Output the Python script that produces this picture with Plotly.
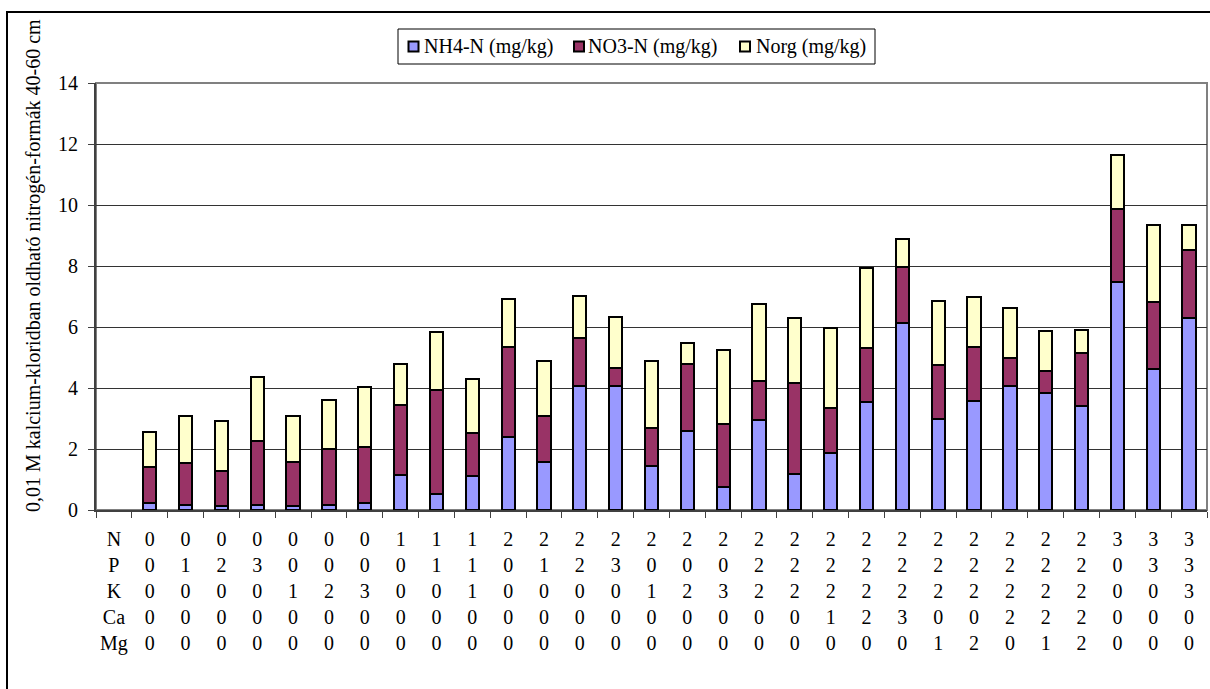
import plotly.graph_objects as go

# Nitrogen forms (mg/kg) in 0.01 M CaCl2 extract, 40-60 cm layer
nh4_n = [0.22, 0.15, 0.12, 0.16, 0.12, 0.15, 0.22, 1.16, 0.51, 1.12,
         2.41, 1.56, 4.05, 4.05, 1.44, 2.60, 0.77, 2.94, 1.17, 1.86,
         3.54, 6.14, 3.00, 3.58, 4.05, 3.83, 3.42, 7.49, 4.62, 6.31]
no3_n = [1.18, 1.40, 1.17, 2.10, 1.45, 1.86, 1.86, 2.29, 3.41, 1.41,
         2.93, 1.51, 1.59, 0.60, 1.25, 2.19, 2.05, 1.30, 2.99, 1.50,
         1.76, 1.84, 1.74, 1.75, 0.95, 0.74, 1.72, 2.38, 2.20, 2.22]
n_org = [1.16, 1.52, 1.62, 2.11, 1.50, 1.60, 1.94, 1.35, 1.90, 1.78,
         1.59, 1.82, 1.39, 1.69, 2.21, 0.68, 2.43, 2.52, 2.15, 2.60,
         2.63, 0.90, 2.10, 1.65, 1.63, 1.30, 0.77, 1.76, 2.54, 0.81]

# Treatment levels shown in the table under the bars
row_names = ["N", "P", "K", "Ca", "Mg"]
n_lvl  = [0, 0, 0, 0, 0, 0, 0, 1, 1, 1, 2, 2, 2, 2, 2, 2, 2, 2, 2, 2, 2, 2, 2, 2, 2, 2, 2, 3, 3, 3]
p_lvl  = [0, 1, 2, 3, 0, 0, 0, 0, 1, 1, 0, 1, 2, 3, 0, 0, 0, 2, 2, 2, 2, 2, 2, 2, 2, 2, 2, 0, 3, 3]
k_lvl  = [0, 0, 0, 0, 1, 2, 3, 0, 0, 1, 0, 0, 0, 0, 1, 2, 3, 2, 2, 2, 2, 2, 2, 2, 2, 2, 2, 0, 0, 3]
ca_lvl = [0, 0, 0, 0, 0, 0, 0, 0, 0, 0, 0, 0, 0, 0, 0, 0, 0, 0, 0, 1, 2, 3, 0, 0, 2, 2, 2, 0, 0, 0]
mg_lvl = [0, 0, 0, 0, 0, 0, 0, 0, 0, 0, 0, 0, 0, 0, 0, 0, 0, 0, 0, 0, 0, 0, 1, 2, 0, 1, 2, 0, 0, 0]

series_names = ["NH4-N (mg/kg)", "NO3-N (mg/kg)", "Norg (mg/kg)"]
series_colors = ["#9999FF", "#993366", "#FFFFCC"]
y_title = "0,01 M kalcium-kloridban oldható nitrogén-formák 40-60 cm"

FONT = "Liberation Serif"
FS = 20
W, H = 1210, 689
L, R, T, B = 96, 3, 83, 179
PW, PH = W - L - R, H - T - B

def px(x):
    return (x - L) / PW

def py(y):
    return (H - B - y) / PH

# slot 0 holds the row names, slots 1..30 hold the treatments
xs = list(range(1, len(nh4_n) + 1))
tickvals = [0] + xs
ticktext = ["<br>".join(row_names)] + [
    "<br>".join(str(v) for v in col)
    for col in zip(n_lvl, p_lvl, k_lvl, ca_lvl, mg_lvl)
]

fig = go.Figure()
for name, vals, color in zip(series_names, [nh4_n, no3_n, n_org], series_colors):
    fig.add_trace(go.Bar(
        x=xs, y=vals, name=name, width=0.37,
        marker=dict(color=color, line=dict(color="black", width=2)),
        showlegend=False,
    ))

shapes = [
    # plot-area frame
    dict(type="rect", xref="paper", yref="paper", x0=0, x1=1, y0=0, y1=1,
         line=dict(color="#808080", width=2), layer="below"),
    # outer chart frame
    dict(type="rect", xref="paper", yref="paper",
         x0=px(7), x1=px(1216), y0=py(696), y1=py(12),
         line=dict(color="black", width=2)),
    # legend box
    dict(type="rect", xref="paper", yref="paper",
         x0=px(398), x1=px(875), y0=py(64), y1=py(29),
         line=dict(color="black", width=1), fillcolor="white"),
]
annotations = []
legend_items = [(408.5, 423), (574, 587), (740, 755)]
for (sx, tx), name, color in zip(legend_items, series_names, series_colors):
    shapes.append(dict(type="rect", xref="paper", yref="paper",
                       x0=px(sx), x1=px(sx + 10), y0=py(51.5), y1=py(41.5),
                       line=dict(color="black", width=2), fillcolor=color))
    annotations.append(dict(xref="paper", yref="paper", x=px(tx), y=py(46.5),
                            text=name, showarrow=False, xanchor="left", yanchor="middle",
                            font=dict(family=FONT, size=FS, color="black"),
                            borderpad=0))

annotations.append(dict(xref="paper", yref="paper", x=px(33), y=py(266),
                        text=y_title, textangle=-90, showarrow=False,
                        xanchor="center", yanchor="middle",
                        font=dict(family=FONT, size=FS, color="black")))

fig.update_layout(
    width=W, height=H, autosize=False,
    margin=dict(l=L, r=R, t=T, b=B, pad=0),
    paper_bgcolor="white", plot_bgcolor="white",
    barmode="stack",
    font=dict(family=FONT, size=FS, color="black"),
    shapes=shapes, annotations=annotations,
    showlegend=False,
)
fig.update_xaxes(
    range=[-0.5, 30.5], tickmode="array", tickvals=tickvals, ticktext=ticktext,
    ticks="", showgrid=False, zeroline=False,
    showline=True, linecolor="#404040", linewidth=2,
    tickfont=dict(family=FONT, size=FS, color="black"),
    ticklabelstandoff=10,
    minor=dict(tickmode="array", tickvals=[i - 0.5 for i in range(32)],
               ticks="outside", ticklen=6, tickwidth=1, tickcolor="#404040",
               showgrid=False),
)
fig.update_yaxes(
    range=[0, 14], dtick=2, tick0=0,
    ticks="outside", ticklen=6, tickwidth=1, tickcolor="#404040",
    showgrid=True, gridcolor="#333333", gridwidth=1, zeroline=False,
    showline=True, linecolor="#404040", linewidth=2,
    tickfont=dict(family=FONT, size=FS, color="black"),
    ticklabelstandoff=6,
)

fig.write_html("out.html")
